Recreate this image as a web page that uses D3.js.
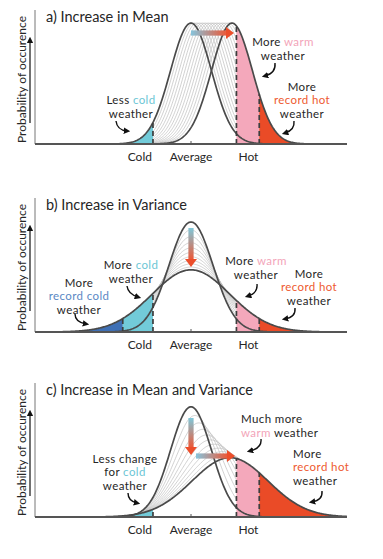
<!DOCTYPE html>
<html>
<head>
<meta charset="utf-8">
<script src="https://cdn.jsdelivr.net/npm/d3@7"></script>
<style>
  body { margin: 0; background: #fff; }
  text { font-family: Lato, "Open Sans", sans-serif; fill: #262626; }
</style>
</head>
<body>
<div id="chart"></div>
<script>
// titles of the three panels
const panelTitles = ["a) Increase in Mean", "b) Increase in Variance", "c) Increase in Mean and Variance"];

// labelled temperatures on the x axis (units of the original spread)
const tickNames = ["Cold", "Average", "Hot"];
const tickValues = [-1.95, 0, 2.33];
const recordCold = -3.5;
const recordHot = 3.5;

// distribution before and after, one entry per panel
const oldMean = [0, 0, 0];
const oldSd = [1.05, 1.13, 1.05];
const newMean = [2.1, 0, 2.0];
const newSd = [1.05, 2.0, 1.95];

// how far from old to new each thin grey curve sits
const stepsA = [0.07, 0.14, 0.21, 0.28, 0.35, 0.42, 0.49, 0.56, 0.63, 0.7, 0.77, 0.84, 0.91];
const stepsB = [0.1, 0.2, 0.3, 0.4, 0.5, 0.6, 0.7, 0.8, 0.9];
const stepsC = [0.1, 0.2, 0.3, 0.4, 0.5, 0.6, 0.7, 0.8, 0.9];
const panelSteps = [stepsA, stepsB, stepsC];

// top of the y scale (probability density) per panel
const yMax = [0.421, 0.43, 0.462];

const colCold = "#72cbd9", colWarm = "#f4a8bb", colHot = "#ea4b27", colRecCold = "#3f70b5";
const txtCold = "#6cc6d5", txtWarm = "#f3a4b9", txtHot = "#ee5a30", txtRecCold = "#5a88c4";
const dark = "#262626";

const width = 383, height = 559;
const svg = d3.select("#chart").append("svg")
    .attr("width", width)
    .attr("height", height);

const defs = svg.append("defs");
defs.append("marker")
    .attr("id", "head")
    .attr("viewBox", "0 0 10 10")
    .attr("refX", 5).attr("refY", 5)
    .attr("markerWidth", 6.5).attr("markerHeight", 6.5)
    .attr("markerUnits", "userSpaceOnUse")
    .attr("orient", "auto")
    .append("path").attr("d", "M0,0 L10,5 L0,10 z").attr("fill", "#111");

const gH = defs.append("linearGradient").attr("id", "gradH").attr("x1", "0%").attr("x2", "100%").attr("y1", "0%").attr("y2", "0%");
gH.append("stop").attr("offset", "0%").attr("stop-color", "#86c4dc");
gH.append("stop").attr("offset", "100%").attr("stop-color", "#ea5a3a");
const gV = defs.append("linearGradient").attr("id", "gradV").attr("x1", "0%").attr("x2", "0%").attr("y1", "0%").attr("y2", "100%");
gV.append("stop").attr("offset", "0%").attr("stop-color", "#7fc8da");
gV.append("stop").attr("offset", "100%").attr("stop-color", "#ea5a3a");

// layout of each panel
const axisTop = [10, 198, 383];
const baseLine = [144, 332, 517];

const xScale = d3.scaleLinear().domain([-8, 8]).range([35, 347]);
const xs = d3.range(-8, 8.001, 0.04);

function gauss(x, m, s) {
    return Math.exp(-0.5 * ((x - m) / s) ** 2) / (s * Math.sqrt(2 * Math.PI));
}

function drawPanel(i) {
    const g = svg.append("g");
    const yScale = d3.scaleLinear().domain([0, yMax[i]]).range([baseLine[i], axisTop[i]]);
    const line = d3.line().x(d => xScale(d[0])).y(d => yScale(d[1]));
    const area = d3.area().x(d => xScale(d[0])).y0(yScale(0)).y1(d => yScale(d[1]));
    const curve = (m, s) => xs.map(x => [x, gauss(x, m, s)]);
    const part = (lo, hi, m, s) => {
        const pts = xs.filter(x => x > lo && x < hi);
        return [lo, ...pts, hi].map(x => [x, gauss(x, m, s)]);
    };

    // thin grey curves between old and new
    panelSteps[i].forEach(t => {
        const m = oldMean[i] + (newMean[i] - oldMean[i]) * t;
        const s = oldSd[i] + (newSd[i] - oldSd[i]) * t;
        g.append("path").attr("d", line(curve(m, s)))
            .attr("fill", "none").attr("stroke", "#bdbdbd").attr("stroke-width", 0.7);
    });

    // shaded tails
    const cold = tickValues[0], hot = tickValues[2];
    const fills = [];
    if (i === 0) {
        fills.push([-8, cold, oldMean[i], oldSd[i], colCold]);
    } else if (i === 1) {
        fills.push([-8, recordCold, newMean[i], newSd[i], colRecCold]);
        fills.push([recordCold, cold, newMean[i], newSd[i], colCold]);
    } else {
        fills.push([-8, cold, newMean[i], newSd[i], colCold]);
    }
    fills.push([hot, recordHot, newMean[i], newSd[i], colWarm]);
    fills.push([recordHot, 8, newMean[i], newSd[i], colHot]);
    fills.forEach(f => {
        g.append("path").attr("d", area(part(f[0], f[1], f[2], f[3]))).attr("fill", f[4]);
    });

    // old and new curves
    [[oldMean[i], oldSd[i]], [newMean[i], newSd[i]]].forEach(p => {
        g.append("path").attr("d", line(curve(p[0], p[1])))
            .attr("fill", "none").attr("stroke", "#4a4a4a").attr("stroke-width", 1.7);
    });

    // dashed threshold lines
    const dashes = [];
    if (i === 0) dashes.push([cold, oldMean[i], oldSd[i]]);
    else dashes.push([cold, newMean[i], newSd[i]]);
    if (i === 1) dashes.push([recordCold, newMean[i], newSd[i]]);
    dashes.push([hot, newMean[i], newSd[i]]);
    dashes.push([recordHot, newMean[i], newSd[i]]);
    dashes.forEach(d => {
        g.append("line")
            .attr("x1", xScale(d[0])).attr("x2", xScale(d[0]))
            .attr("y1", yScale(0)).attr("y2", yScale(gauss(d[0], d[1], d[2])))
            .attr("stroke", "#3d3d3d").attr("stroke-width", 1.7).attr("stroke-dasharray", "5,3");
    });

    // axes
    g.append("line").attr("x1", xScale(-8)).attr("x2", xScale(-8))
        .attr("y1", yScale(yMax[i])).attr("y2", yScale(0))
        .attr("stroke", "#777").attr("stroke-width", 1);
    g.append("line").attr("x1", xScale(-8)).attr("x2", xScale(8))
        .attr("y1", yScale(0)).attr("y2", yScale(0))
        .attr("stroke", "#555").attr("stroke-width", 1.8);
    g.append("line").attr("x1", xScale(0)).attr("x2", xScale(0))
        .attr("y1", yScale(0)).attr("y2", yScale(0) - 3)
        .attr("stroke", "#555").attr("stroke-width", 1);

    // tick labels
    tickNames.forEach((name, k) => {
        const anchor = k === 0 ? "end" : (k === 1 ? "middle" : "start");
        const dx = k === 0 ? -1 : (k === 1 ? 0 : 2);
        g.append("text")
            .attr("x", xScale(tickValues[k]) + dx)
            .attr("y", yScale(0) + 17)
            .attr("text-anchor", anchor)
            .attr("font-size", 12)
            .text(name);
    });

    // title
    g.append("text").attr("x", 46).attr("y", axisTop[i] + 12)
        .attr("font-size", 14.5).text(panelTitles[i]);

    // y label and arrow
    g.append("text")
        .attr("transform", `translate(26, ${yScale(0) - 1}) rotate(-90)`)
        .attr("font-size", 12)
        .text("Probability of occurence");
    g.append("line").attr("x1", 30).attr("x2", 30)
        .attr("y1", yScale(0) - 21).attr("y2", yScale(0) - 104)
        .attr("stroke", "#111").attr("stroke-width", 1.2)
        .attr("marker-end", "url(#head)");

    return {g, yScale};
}

function bigArrow(g, x1, y1, x2, y2, grad) {
    const horiz = y1 === y2;
    const hl = 8, hw = 6, sw = 2.6;
    if (horiz) {
        g.append("rect").attr("x", x1).attr("y", y1 - sw).attr("width", x2 - x1 - hl).attr("height", sw * 2)
            .attr("fill", `url(#${grad})`);
        g.append("path").attr("d", `M${x2 - hl},${y1 - hw} L${x2},${y1} L${x2 - hl},${y1 + hw} z`).attr("fill", "#ec4e2b");
    } else {
        g.append("rect").attr("x", x1 - sw).attr("y", y1).attr("width", sw * 2).attr("height", y2 - y1 - hl)
            .attr("fill", `url(#${grad})`);
        g.append("path").attr("d", `M${x1 - hw},${y2 - hl} L${x1},${y2} L${x1 + hw},${y2 - hl} z`).attr("fill", "#ec4e2b");
    }
}

// one text element per line so each line is its own label
const noteGap = 13.5;
function note(g, x, y, anchor, lines) {
    const y0 = y - (lines.length - 1) * (noteGap - 12) / 2;
    lines.forEach((segs, k) => {
        const t = g.append("text").attr("text-anchor", anchor)
            .attr("font-size", 11.5).attr("letter-spacing", 0.4)
            .attr("x", x).attr("y", y0 + k * noteGap);
        segs.forEach(s => {
            t.append("tspan").text(s[0]).style("fill", s[1] || dark);
        });
    });
}

function hook(g, d) {
    g.append("path").attr("d", d).attr("fill", "none")
        .attr("stroke", "#111").attr("stroke-width", 1.4)
        .attr("marker-end", "url(#head)");
}

// panel a
let p = drawPanel(0);
bigArrow(p.g, xScale(oldMean[0]), 33, xScale(newMean[0]) + 2, 33, "gradH");
note(p.g, 131, 105, "middle", [[["Less "], ["cold", txtCold]], [["weather"]]]);
note(p.g, 283, 47, "middle", [[["More "], ["warm", txtWarm]], [["weather"]]]);
note(p.g, 302, 92, "middle", [[["More"]], [["record hot", txtHot]], [["weather"]]]);
hook(p.g, "M116,121 Q117,130 127,131");
hook(p.g, "M275,63 Q276,73 265,76");
hook(p.g, "M294,121 Q295,130 285,133");

// panel b
p = drawPanel(1);
bigArrow(p.g, xScale(0), 228, xScale(0), 267, "gradV");
note(p.g, 131, 270, "middle", [[["More "], ["cold", txtCold]], [["weather"]]]);
note(p.g, 79, 288, "middle", [[["More"]], [["record cold", txtRecCold]], [["weather"]]]);
note(p.g, 256, 266, "middle", [[["More "], ["warm", txtWarm]], [["weather"]]]);
note(p.g, 309, 279, "middle", [[["More"]], [["record hot", txtHot]], [["weather"]]]);
hook(p.g, "M75,314 Q75,322 86,324");
hook(p.g, "M127,286 Q128,294 138,297");
hook(p.g, "M257,284 Q258,293 248,296");
hook(p.g, "M295,308 Q296,317 285,319");

// panel c
p = drawPanel(2);
bigArrow(p.g, xScale(0), 418, xScale(0), 455, "gradV");
bigArrow(p.g, xScale(0) + 5, 456, xScale(newMean[2]) + 5, 456, "gradH");
note(p.g, 241, 424, "start", [[["Much more"]], [["warm", txtWarm], [" weather"]]]);
note(p.g, 293, 459, "start", [[["More"]], [["record hot", txtHot]], [["weather"]]]);
note(p.g, 125, 464, "middle", [[["Less change"]], [["for "], ["cold", txtCold]], [["weather"]]]);
hook(p.g, "M128,493 Q128,501 137,503");
hook(p.g, "M261,439 Q262,448 250,451");
hook(p.g, "M322,491 Q323,500 312,502");
</script>
</body>
</html>
